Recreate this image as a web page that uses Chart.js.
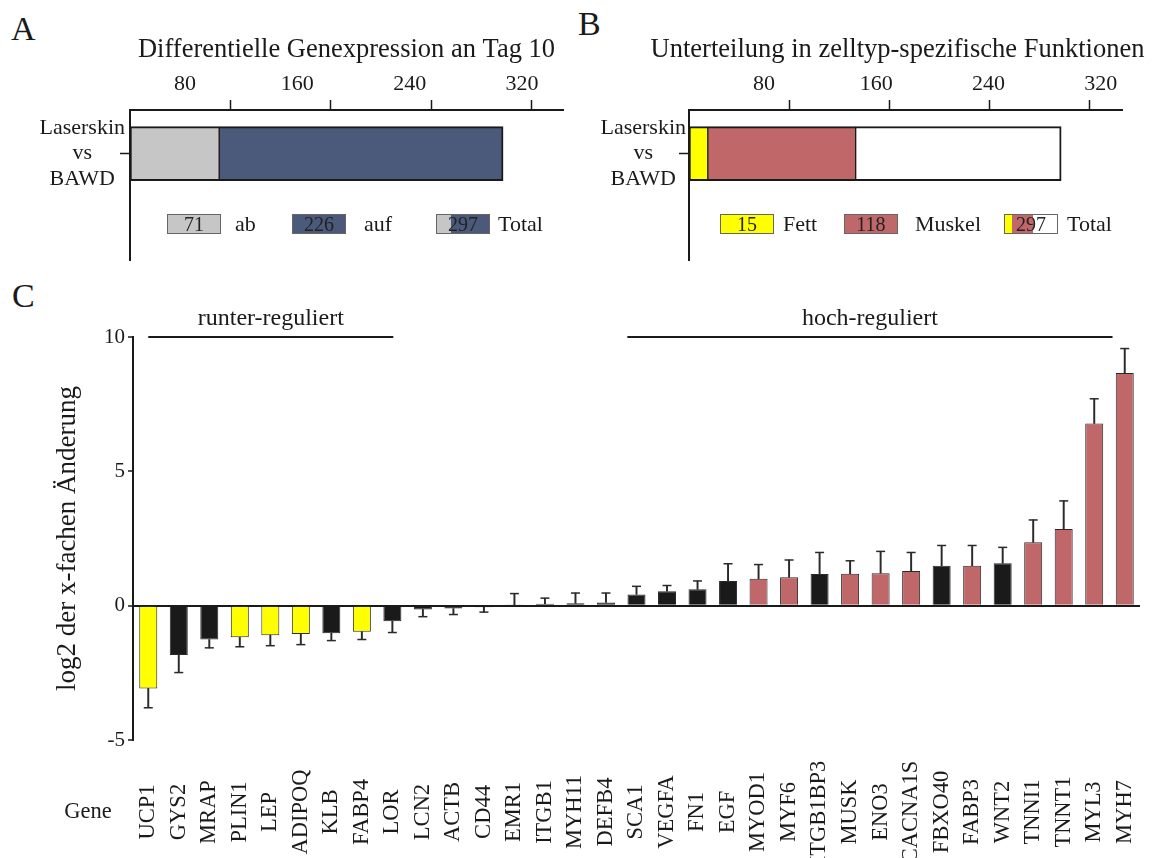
<!DOCTYPE html>
<html lang="de">
<head>
<meta charset="utf-8">
<title>Genexpression Laserskin vs BAWD</title>
<script src="https://cdn.jsdelivr.net/npm/chart.js@4.4.1/dist/chart.umd.min.js"></script>
<style>
    html, body { margin: 0; padding: 0; background: #fff; }
    body {
        width: 1153px; height: 858px; position: relative; overflow: hidden;
        font-family: "Liberation Serif", "Times New Roman", serif; color: #1a1a1a;
    }
    canvas { position: absolute; }
    .letter { position: absolute; font-size: 34px; line-height: 34px; }
    .box {
        position: absolute; top: 214px; width: 54px; height: 20px; box-sizing: border-box;
        border: 1px solid #666; font-size: 20px; line-height: 19px; text-align: center; color: #222;
    }
    .lab { position: absolute; top: 213px; font-size: 22px; line-height: 22px; }
</style>
</head>
<body>
<div class="letter" style="left:11px; top:12px;">A</div>
<div class="letter" style="left:578px; top:7px;">B</div>
<div class="letter" style="left:12px; top:279px;">C</div>

<canvas id="chartA" width="575" height="270" style="left:0; top:0;"></canvas>
<!-- wider than the page on purpose, so the title centres where the original has it -->
<canvas id="chartB" width="603" height="270" style="left:596px; top:0;"></canvas>
<canvas id="chartC" width="1153" height="598" style="left:0; top:260px;"></canvas>

<!-- legend boxes of panels A and B -->
<div class="box" id="legAb" style="left:167px; background:#c6c6c6;"></div>
<div class="lab" style="left:235px;">ab</div>
<div class="box" id="legAuf" style="left:292px; background:#4b5a7b;"></div>
<div class="lab" style="left:364px;">auf</div>
<div class="box" id="legTotalA" style="left:436px; background:linear-gradient(to right, #c6c6c6 0 14px, #4b5a7b 14px);"></div>
<div class="lab" style="left:498px;">Total</div>

<div class="box" id="legFett" style="left:720px; background:#ffff00;"></div>
<div class="lab" style="left:783px;">Fett</div>
<div class="box" id="legMuskel" style="left:844px; background:#bf6769;"></div>
<div class="lab" style="left:915px;">Muskel</div>
<div class="box" id="legTotalB" style="left:1004px; background:linear-gradient(to right, #ffff00 0 7px, #bf6769 7px 28px, #fff 28px);"></div>
<div class="lab" style="left:1067px;">Total</div>

<script>
"use strict";

// --- Data ---
const comparisonLabel = ['Laserskin', 'vs', 'BAWD'];
const axisTicks = [80, 160, 240, 320];

// Panel A: differentially expressed genes on day 10
const directionLabels = ['ab', 'auf'];
const directionCounts = [71, 226];

// Panel B: split by cell type function (rest = not assigned)
const cellTypeLabels = ['Fett', 'Muskel', 'Rest'];
const cellTypeCounts = [15, 118, 164];

// Panel C: qPCR log2 fold change
const genes = ['UCP1', 'GYS2', 'MRAP', 'PLIN1', 'LEP', 'ADIPOQ', 'KLB', 'FABP4', 'LOR', 'LCN2',
    'ACTB', 'CD44', 'EMR1', 'ITGB1', 'MYH11', 'DEFB4', 'SCA1', 'VEGFA', 'FN1', 'EGF',
    'MYOD1', 'MYF6', 'ITGB1BP3', 'MUSK', 'ENO3', 'CACNA1S', 'FBXO40', 'FABP3', 'WNT2', 'TNNI1',
    'TNNT1', 'MYL3', 'MYH7'];
const log2Change = [-3.08, -1.84, -1.26, -1.18, -1.10, -1.05, -1.03, -0.97, -0.58, -0.14,
    -0.11, -0.06, 0.01, 0.07, 0.09, 0.12, 0.42, 0.54, 0.61, 0.92,
    1.00, 1.06, 1.18, 1.19, 1.21, 1.29, 1.49, 1.49, 1.58, 2.36,
    2.85, 6.78, 8.66];
const errors = [0.72, 0.65, 0.31, 0.35, 0.39, 0.40, 0.27, 0.29, 0.42, 0.27,
    0.22, 0.18, 0.44, 0.21, 0.38, 0.35, 0.30, 0.21, 0.31, 0.64,
    0.53, 0.64, 0.80, 0.48, 0.81, 0.69, 0.75, 0.75, 0.59, 0.83,
    1.05, 0.92, 0.91];
// 'fett' = fat specific, 'muskel' = muscle specific, 'andere' = other
const geneGroup = ['fett', 'andere', 'andere', 'fett', 'fett', 'fett', 'andere', 'fett', 'andere', 'andere',
    'andere', 'andere', 'andere', 'andere', 'andere', 'andere', 'andere', 'andere', 'andere', 'andere',
    'muskel', 'muskel', 'andere', 'muskel', 'muskel', 'muskel', 'andere', 'muskel', 'andere', 'muskel',
    'muskel', 'muskel', 'muskel'];
const bracketLabels = ['runter-reguliert', 'hoch-reguliert'];
const bracketFrom = [0, 15.7];   // category index where the bracket starts
const bracketTo = [8.03, 31.6];  // category index where the bracket ends
const bracketLevel = 10;

// --- Styles ---
const Chart = window.Chart;
const SERIF = '"Liberation Serif", "Times New Roman", serif';
const INK = '#1a1a1a';
const GROUP_COLORS = { fett: '#ffff00', muskel: '#bf6769', andere: '#1a1a1a' };

Chart.defaults.font.family = SERIF;
Chart.defaults.color = INK;

// legend numbers
const sum = arr => arr.reduce((a, b) => a + b, 0);
document.getElementById('legAb').textContent = directionCounts[0];
document.getElementById('legAuf').textContent = directionCounts[1];
document.getElementById('legTotalA').textContent = sum(directionCounts);
document.getElementById('legFett').textContent = cellTypeCounts[0];
document.getElementById('legMuskel').textContent = cellTypeCounts[1];
document.getElementById('legTotalB').textContent = sum(cellTypeCounts);

/** Horizontal stacked summary bar (panels A and B). */
function summaryChart(canvasId, cfg) {
    const scales = {
        x: {
            type: 'linear', position: 'top', stacked: true, min: 0, max: cfg.xMax, weight: 0, offset: false,
            afterBuildTicks: s => { s.ticks = axisTicks.map(v => ({ value: v })); },
            afterFit: s => { s.height = 10; },
            ticks: { display: false },
            grid: { drawOnChartArea: false, drawTicks: true, tickLength: 10, tickColor: INK, tickWidth: 1.5 },
            border: { color: INK, width: 2 }
        },
        // the printed tick labels sit slightly off the tick marks in the original
        xLab: {
            type: 'linear', position: 'top', min: cfg.labMin, max: cfg.labMax, weight: 1, offset: false,
            afterBuildTicks: s => { s.ticks = axisTicks.map(v => ({ value: v })); },
            afterFit: s => { s.height = 34.1; },
            ticks: { font: { size: 22 }, color: INK, padding: 3, maxRotation: 0 },
            grid: { display: false, drawTicks: false },
            border: { display: false }
        },
        y: {
            type: 'linear', stacked: true, min: -0.7087, max: 0.2913, offset: false,
            afterBuildTicks: s => { s.ticks = [{ value: 0 }]; },
            afterFit: s => { s.width = cfg.yWidth; s.paddingTop = 0; s.paddingBottom = 0; },
            ticks: {
                callback: () => comparisonLabel, font: { size: 22, lineHeight: 1.15 }, color: INK,
                crossAlign: 'center', padding: cfg.yPad
            },
            grid: { offset: false, drawOnChartArea: false, tickLength: 10, tickColor: INK, tickWidth: 1.5 },
            border: { color: INK, width: 2 }
        }
    };
    if (cfg.rightGap) {
        scales.gap = {
            type: 'linear', position: 'right', display: true, offset: false,
            afterFit: s => { s.width = cfg.rightGap; s.paddingTop = 0; s.paddingBottom = 0; },
            ticks: { display: false }, grid: { display: false, drawTicks: false }, border: { display: false }
        };
    }
    return new Chart(document.getElementById(canvasId), {
        type: 'bar',
        data: { datasets: cfg.datasets },
        options: {
            responsive: false,
            animation: false,
            indexAxis: 'y',
            layout: { padding: cfg.padding },
            plugins: {
                legend: { display: false },
                tooltip: { enabled: false },
                title: {
                    display: true, text: cfg.title, fullSize: cfg.fullSizeTitle, color: INK,
                    font: { size: 26.5, weight: 'normal' }, padding: { top: 34.1, bottom: 0 }
                }
            },
            scales
        }
    });
}

function segment(value, color, first, last) {
    return {
        data: [{ x: value, y: 0 }],
        backgroundColor: color,
        borderColor: INK,
        borderWidth: { top: 2, bottom: 2, left: first ? 2 : 1, right: last ? 2 : 1 },
        borderSkipped: false,
        barThickness: 54
    };
}

// --- A ---
summaryChart('chartA', {
    title: 'Differentielle Genexpression an Tag 10',
    fullSizeTitle: false,
    xMax: 344.7, labMin: 40.8, labMax: 349.2,
    yWidth: 130, yPad: -5,
    padding: { left: 0, right: 12, top: 0, bottom: 10 },
    datasets: [
        segment(directionCounts[0], '#c6c6c6', true, false),
        segment(directionCounts[1], '#4b5a7b', false, true)
    ]
});

// --- B ---
summaryChart('chartB', {
    title: 'Unterteilung in zelltyp-spezifische Funktionen',
    fullSizeTitle: true,
    xMax: 346.1, labMin: 26.5, labMax: 335.6,
    yWidth: 93, yPad: -7, rightGap: 76.3,
    padding: { left: 0, right: 0, top: 0, bottom: 10 },
    datasets: [
        segment(cellTypeCounts[0], GROUP_COLORS.fett, true, false),
        segment(cellTypeCounts[1], GROUP_COLORS.muskel, false, false),
        segment(cellTypeCounts[2], '#ffffff', false, true)
    ]
});

// --- C ---
const GENE_LABEL_Y = 552;     // canvas px, middle of the rotated gene names
const BRACKET_TEXT_Y = 59;    // canvas px

const barColors = geneGroup.map(g => GROUP_COLORS[g]);
// error bar stems run away from zero
const errorStems = log2Change.map((v, i) => (v < 0 ? [v, v - errors[i]] : [v, v + errors[i]]));
const errorTips = log2Change.map((v, i) => (v < 0 ? v - errors[i] : v + errors[i]));

const geneLabelPlugin = {
    id: 'geneLabels',
    afterDraw(chart) {
        const { ctx, scales } = chart;
        ctx.save();
        ctx.fillStyle = INK;
        ctx.textAlign = 'center';
        ctx.textBaseline = 'middle';
        ctx.font = `22.5px ${SERIF}`;
        genes.forEach((g, i) => {
            ctx.save();
            ctx.translate(scales.x.getPixelForValue(i), GENE_LABEL_Y);
            ctx.rotate(-Math.PI / 2);
            ctx.fillText(g, 0, 0);
            ctx.restore();
        });
        ctx.fillText('Gene', 88, GENE_LABEL_Y);
        ctx.font = `24px ${SERIF}`;
        bracketLabels.forEach((txt, i) => {
            const xm = scales.xl.getPixelForValue((bracketFrom[i] + bracketTo[i]) / 2);
            ctx.fillText(txt, xm, BRACKET_TEXT_Y);
        });
        ctx.restore();
    }
};

const bracketDatasets = bracketLabels.map((txt, i) => ({
    type: 'line',
    label: txt,
    xAxisID: 'xl',
    data: [{ x: bracketFrom[i], y: bracketLevel }, { x: bracketTo[i], y: bracketLevel }],
    borderColor: INK,
    borderWidth: 2,
    pointRadius: 0,
    clip: false
}));

new Chart(document.getElementById('chartC'), {
    type: 'bar',
    data: {
        labels: genes,
        datasets: [
            {
                type: 'bar', label: 'log2', data: log2Change,
                backgroundColor: barColors, borderColor: '#2a2a2a', borderWidth: 1,
                grouped: false, barPercentage: 0.59, categoryPercentage: 1, order: 1
            },
            {
                type: 'bar', label: 'Fehler', data: errorStems,
                backgroundColor: '#2a2a2a', grouped: false, barThickness: 1.3, order: 2
            },
            {
                type: 'line', label: 'Fehler-Ende', data: errorTips, showLine: false,
                pointStyle: 'line', pointRadius: 4.5, pointBorderWidth: 1.5,
                pointBorderColor: '#2a2a2a', pointBackgroundColor: '#2a2a2a', order: 0
            },
            ...bracketDatasets
        ]
    },
    options: {
        responsive: false,
        animation: false,
        layout: { padding: { left: 0, right: 13, top: 77, bottom: 118 } },
        plugins: { legend: { display: false }, tooltip: { enabled: false } },
        scales: {
            x: { display: false, offset: true },
            xl: { type: 'linear', display: false, offset: false, min: -0.5, max: genes.length - 0.5 },
            y: {
                min: -5, max: 10, z: 1,
                afterFit: s => { s.width = 133; },
                ticks: { stepSize: 5, font: { size: 21 }, color: INK, padding: 3 },
                grid: {
                    color: ctx => (ctx.tick && ctx.tick.value === 0 ? INK : 'rgba(0,0,0,0)'),
                    lineWidth: 2, tickLength: 5, tickColor: INK, tickWidth: 1.5
                },
                border: { color: INK, width: 2 },
                title: {
                    display: true, text: 'log2 der x-fachen Änderung', color: INK,
                    font: { size: 27 }, padding: { top: 52, bottom: 0 }
                }
            }
        }
    },
    plugins: [geneLabelPlugin]
});
</script>
</body>
</html>
